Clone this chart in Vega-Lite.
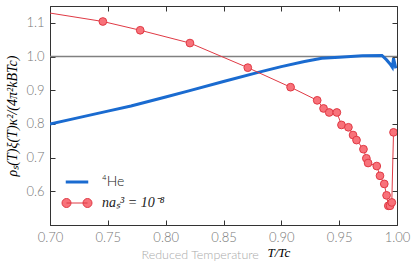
{
  "$schema": "https://vega.github.io/schema/vega-lite/v6.json",
  "autosize": "none",
  "width": 347,
  "height": 219,
  "padding": {"left": 50, "top": 6, "right": 19, "bottom": 43},
  "background": "white",
  "config": {
    "view": {"stroke": "#333", "strokeWidth": 1},
    "axis": {
      "labelFont": "Lato",
      "labelFontWeight": 300,
      "labelFontSize": 13,
      "labelColor": "#777",
      "domainColor": "#333",
      "tickColor": "#333",
      "grid": false
    }
  },
  "datasets": {
    "he": [
      {"T": 0.70, "v": 0.800}, {"T": 0.72, "v": 0.815}, {"T": 0.75, "v": 0.838},
      {"T": 0.77, "v": 0.853}, {"T": 0.80, "v": 0.880}, {"T": 0.82, "v": 0.898},
      {"T": 0.85, "v": 0.926}, {"T": 0.88, "v": 0.953}, {"T": 0.90, "v": 0.970},
      {"T": 0.92, "v": 0.985}, {"T": 0.935, "v": 0.995}, {"T": 0.95, "v": 0.998},
      {"T": 0.97, "v": 1.002}, {"T": 0.987, "v": 1.003}, {"T": 0.991, "v": 0.990},
      {"T": 0.994, "v": 0.978}, {"T": 0.996, "v": 0.968}, {"T": 0.997, "v": 0.995},
      {"T": 0.999, "v": 0.965}
    ],
    "bec": [
      {"T": 0.66, "v": 1.151}, {"T": 0.7457, "v": 1.104}, {"T": 0.778, "v": 1.078},
      {"T": 0.821, "v": 1.040}, {"T": 0.871, "v": 0.967}, {"T": 0.908, "v": 0.909},
      {"T": 0.931, "v": 0.870}, {"T": 0.9365, "v": 0.846}, {"T": 0.9414, "v": 0.834},
      {"T": 0.948, "v": 0.834}, {"T": 0.952, "v": 0.797}, {"T": 0.958, "v": 0.790},
      {"T": 0.962, "v": 0.767}, {"T": 0.965, "v": 0.752}, {"T": 0.971, "v": 0.725},
      {"T": 0.9735, "v": 0.698}, {"T": 0.975, "v": 0.684}, {"T": 0.9825, "v": 0.675},
      {"T": 0.9853, "v": 0.646}, {"T": 0.989, "v": 0.622}, {"T": 0.991, "v": 0.588},
      {"T": 0.9925, "v": 0.557}, {"T": 0.994, "v": 0.557}, {"T": 0.9955, "v": 0.567},
      {"T": 0.997, "v": 0.775}
    ],
    "ref": [{"T": 0.70, "v": 1.0}, {"T": 1.0, "v": 1.0}]
  },
  "layer": [
    {
      "data": {"name": "ref"},
      "mark": {"type": "line", "color": "#808080", "strokeWidth": 1.5, "clip": true},
      "encoding": {
        "x": {"field": "T", "type": "quantitative", "scale": {"domain": [0.70, 1.00]},
          "axis": {"orient": "top", "labels": false, "title": null, "values": [0.70, 0.75, 0.80, 0.85, 0.90, 0.95, 1.00], "tickSize": -5, "domain": false}},
        "y": {"field": "v", "type": "quantitative", "scale": {"domain": [0.512, 1.15]},
          "axis": {"orient": "right", "labels": false, "title": null, "values": [0.6, 0.7, 0.8, 0.9, 1.0, 1.1], "tickSize": -5, "domain": false}}
      }
    },
    {
      "layer": [
        {
          "data": {"name": "he"},
          "transform": [{"calculate": "'⁴He'", "as": "series"}],
          "mark": {"type": "line", "strokeWidth": 3, "clip": true},
          "encoding": {
            "x": {"field": "T", "type": "quantitative"},
            "y": {"field": "v", "type": "quantitative"},
            "color": {"field": "series", "type": "nominal"}
          }
        },
        {
          "data": {"name": "bec"},
          "transform": [{"calculate": "'naₛ³ = 10⁻⁸'", "as": "series"}],
          "mark": {"type": "line", "strokeWidth": 1, "clip": true},
          "encoding": {
            "x": {"field": "T", "type": "quantitative"},
            "y": {"field": "v", "type": "quantitative"},
            "color": {"field": "series", "type": "nominal",
              "scale": {"domain": ["⁴He", "naₛ³ = 10⁻⁸"], "range": ["#1a6bd0", "#e03a45"]},
              "legend": {
                "orient": "none", "legendX": 12, "legendY": 169, "title": null, "padding": 0,
                "symbolSize": 900, "rowPadding": 7, "labelOffset": 10,
                "labelFontSize": 14, "labelColor": "#222", "labelFont": "Lato",
                "labelFontWeight": 300,
                "encode": {
                  "symbols": {"update": {
                    "x": {"value": 15},
                    "shape": {"signal": "datum.value === '⁴He' ? 'M-0.75,0L0.75,0' : 'M-0.7,0L0.7,0M-1.0,0A0.3,0.3 0 1,0 -0.4,0A0.3,0.3 0 1,0 -1.0,0M0.4,0A0.3,0.3 0 1,0 1.0,0A0.3,0.3 0 1,0 0.4,0'"},
                    "fill": {"signal": "datum.value === '⁴He' ? 'transparent' : '#f8727a'"},
                    "stroke": {"signal": "datum.value === '⁴He' ? '#1a6bd0' : '#e03a45'"},
                    "strokeWidth": {"signal": "datum.value === '⁴He' ? 3 : 1"},
                    "opacity": {"value": 1}
                  }},
                  "labels": {"update": {
                    "x": {"value": 40},
                    "font": {"signal": "datum.value === '⁴He' ? 'Lato' : 'Liberation Serif'"},
                    "fontStyle": {"signal": "datum.value === '⁴He' ? 'normal' : 'italic'"}
                  }}
                }
              }
            }
          }
        }
      ],
      "encoding": {
        "x": {"field": "T", "type": "quantitative",
          "axis": {"orient": "bottom", "values": [0.70, 0.75, 0.80, 0.85, 0.90, 0.95, 1.00], "format": ".2f",
            "tickSize": -5, "labelPadding": 11, "labelFlush": false,
            "title": "Reduced Temperature", "titleFont": "Lato", "titleFontWeight": 300, "titleFontSize": 12.5,
            "titleColor": "#aaa", "titleX": 91, "titleAlign": "left", "titlePadding": 4}},
        "y": {"field": "v", "type": "quantitative",
          "axis": {"orient": "left", "values": [0.6, 0.7, 0.8, 0.9, 1.0, 1.1], "format": ".1f",
            "tickSize": -5, "labelPadding": 11,
            "title": "ρₛ(T)ξ(T)κ²/(4π²kBTc)", "titleFont": "Liberation Serif", "titleFontStyle": "italic",
            "titleFontWeight": "normal", "titleFontSize": 14, "titleColor": "#000", "titlePadding": 6}}
      }
    },
    {
      "data": {"name": "bec"},
      "mark": {"type": "point", "shape": "circle", "filled": true, "size": 60, "fill": "#f8727a", "stroke": "#e03a45", "strokeWidth": 1, "opacity": 1, "clip": true},
      "encoding": {
        "x": {"field": "T", "type": "quantitative",
          "axis": {"orient": "bottom", "labels": false, "ticks": false, "domain": false,
            "title": "T/Tc", "titleX": 217, "titleY": 21, "titleAlign": "left", "titleBaseline": "top",
            "titleFont": "Liberation Serif", "titleFontStyle": "italic", "titleFontWeight": "normal",
            "titleFontSize": 13, "titleColor": "#000"}},
        "y": {"field": "v", "type": "quantitative", "axis": null}
      }
    }
  ],
  "resolve": {"axis": {"x": "independent", "y": "independent"}}
}
